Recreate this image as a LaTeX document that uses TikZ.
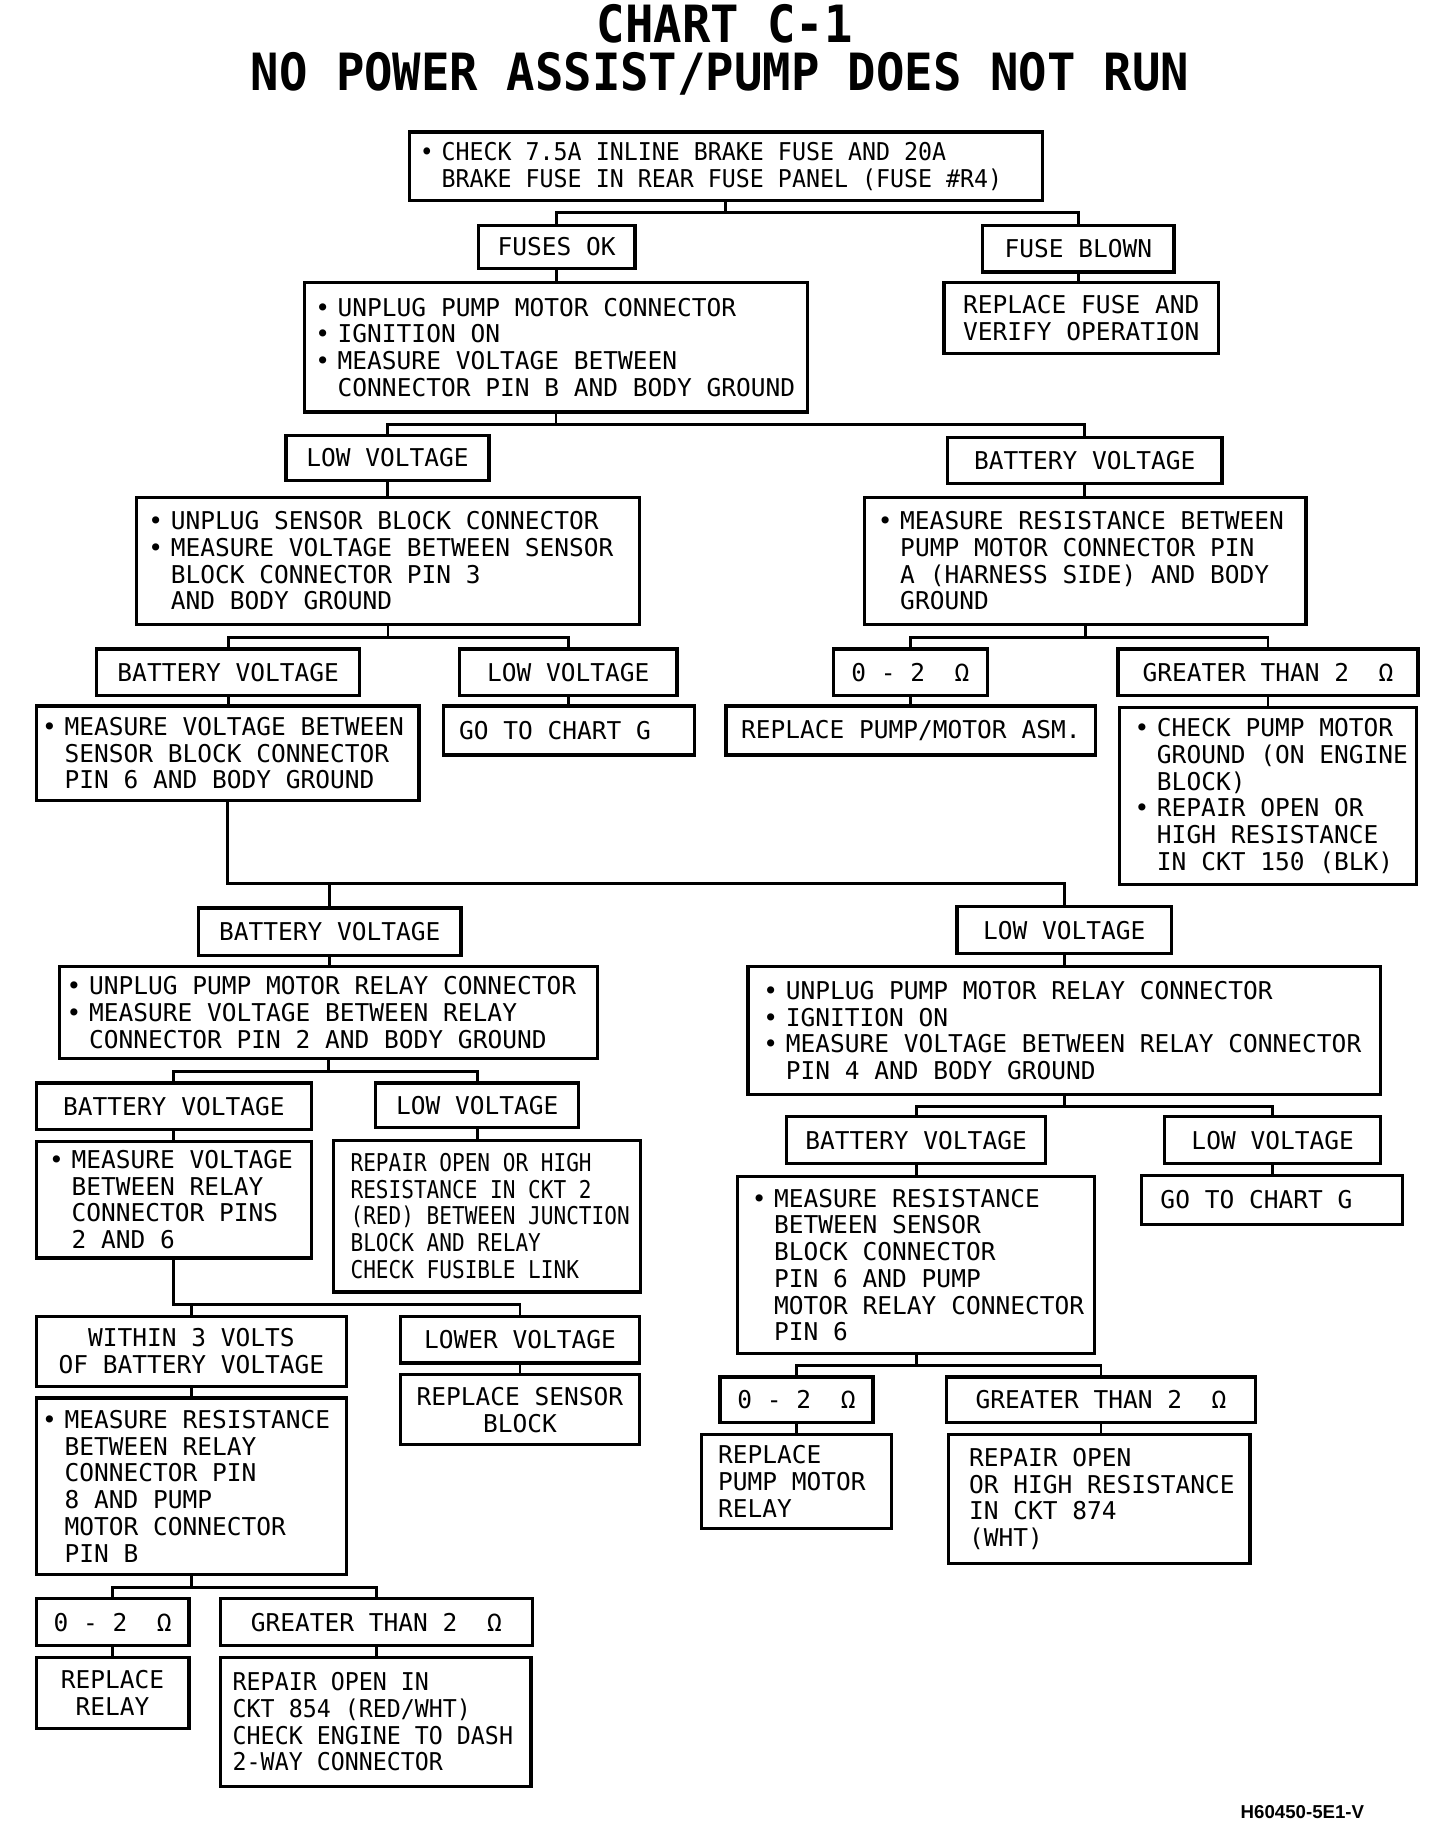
\documentclass[tikz,border=0pt]{standalone}
\usepackage{fontspec}
\newfontfamily\monof{DejaVu Sans Mono}
\newfontfamily\monosemi[FakeStretch=0.95]{DejaVu Sans Mono}
\newfontfamily\mononar[FakeStretch=0.86]{DejaVu Sans Mono}
\newfontfamily\titlef[FakeStretch=0.92]{DejaVu Sans Mono}
\newfontfamily\footf{Liberation Sans}
\newcommand\bodyfont{\monof\fontsize{10.5}{11.45}\selectfont}
\newcommand\bodysemi{\monosemi\fontsize{10.5}{11.45}\selectfont}
\newcommand\bodynar{\mononar\fontsize{10.5}{11.45}\selectfont}
\newcommand\bu{\llap{•\hspace{3.3pt}}}
\newcommand\bx[7][]{\node[box,minimum width={(#5-#3)*0.5pt},minimum height={(#6-#4)*0.5pt},#1] (#2) at ({(#3+#5)/2},{(#4+#6)/2}) {#7};}
\newcommand\tree[4]{\draw[link] (#1.south) -- (#1.south |- 0,#2);
  \draw[link] (#3.north) -- (#3.north |- 0,#2) -- (#4.north |- 0,#2) -- (#4.north);}
\newcommand\vp[2]{\draw[link] (#1.south) -- (#1.south |- #2.north);}
\begin{document}
\begin{tikzpicture}[x=0.5pt,y=-0.5pt,
  box/.style={draw,line width=1.4pt,inner sep=0pt,align=center,font=\bodyfont},
  txt/.style={inner sep=0pt,align=left,anchor=west,font=\bodyfont},
  link/.style={line width=1.2pt}]
\useasboundingbox (0,0) rectangle (1247.6,1568.1);

% title
\node[font={\titlef\bfseries\fontsize{22}{24}\selectfont},inner sep=0pt] (title1) at (621,20) {CHART C-1};
\node[font={\titlef\bfseries\fontsize{22}{24}\selectfont},inner sep=0pt] (title2) at (617,63) {NO POWER ASSIST/PUMP DOES NOT RUN};

% boxes
\bx{n1}{351}{113}{893}{172}{}
\node[txt,font=\bodysemi] (n1t) at (378,142.5) {\bu CHECK 7.5A INLINE BRAKE FUSE AND 20A\\BRAKE FUSE IN REAR FUSE PANEL (FUSE \#R4)};
\bx{n2}{410}{193}{544}{230}{FUSES OK}
\bx{n3}{842}{193}{1006}{233}{FUSE BLOWN}
\bx{n4}{261}{242}{692}{353}{}
\node[txt] (n4t) at (289,297.5) {\bu UNPLUG PUMP MOTOR CONNECTOR\\\bu IGNITION ON\\\bu MEASURE VOLTAGE BETWEEN\\CONNECTOR PIN B AND BODY GROUND};
\bx{n5}{809}{242}{1044}{303}{REPLACE FUSE AND\\VERIFY OPERATION}
\bx{n6}{245}{373}{419}{412}{LOW VOLTAGE}
\bx{n7}{812}{375}{1047}{414}{BATTERY VOLTAGE}
\bx{n8}{117}{426}{548}{535}{}
\node[txt] (n8t) at (146,480.5) {\bu UNPLUG SENSOR BLOCK CONNECTOR\\\bu MEASURE VOLTAGE BETWEEN SENSOR\\BLOCK CONNECTOR PIN 3\\AND BODY GROUND};
\bx{n9}{741}{426}{1119}{535}{}
\node[txt] (n9t) at (771,480.5) {\bu MEASURE RESISTANCE BETWEEN\\PUMP MOTOR CONNECTOR PIN\\A (HARNESS SIDE) AND BODY\\GROUND};
\bx{n10}{83}{556}{308}{596}{BATTERY VOLTAGE}
\bx{n11}{394}{556}{580}{596}{LOW VOLTAGE}
\bx{n12}{714}{556}{846}{596}{0 - 2~~Ω}
\bx{n13}{958}{556}{1215}{596}{GREATER THAN 2~~Ω}
\bx{n14}{31}{605}{359}{686}{}
\node[txt] (n14t) at (55,645.5) {\bu MEASURE VOLTAGE BETWEEN\\SENSOR BLOCK CONNECTOR\\PIN 6 AND BODY GROUND};
\bx{n15}{380}{605}{595}{647}{}
\node[txt] (n15t) at (393,626) {GO TO CHART G};
\bx{n16}{622}{605}{939}{647}{REPLACE PUMP/MOTOR ASM.}
\bx{n17}{959}{606}{1214}{758}{}
\node[txt] (n17t) at (991,682) {\bu CHECK PUMP MOTOR\\GROUND (ON ENGINE\\BLOCK)\\\bu REPAIR OPEN OR\\HIGH RESISTANCE\\IN CKT 150 (BLK)};
\bx{n18}{170}{778}{395}{819}{BATTERY VOLTAGE}
\bx{n19}{820}{777}{1004}{817}{LOW VOLTAGE}
\bx{n20}{51}{828}{512}{907}{}
\node[txt] (n20t) at (76,867.5) {\bu UNPLUG PUMP MOTOR RELAY CONNECTOR\\\bu MEASURE VOLTAGE BETWEEN RELAY\\CONNECTOR PIN 2 AND BODY GROUND};
\bx{n21}{641}{828}{1183}{938}{}
\node[txt] (n21t) at (673,883) {\bu UNPLUG PUMP MOTOR RELAY CONNECTOR\\\bu IGNITION ON\\\bu MEASURE VOLTAGE BETWEEN RELAY CONNECTOR\\PIN 4 AND BODY GROUND};
\bx{n22}{31}{928}{267}{968}{BATTERY VOLTAGE}
\bx{n23}{322}{928}{496}{966}{LOW VOLTAGE}
\bx{n24}{674}{957}{896}{997}{BATTERY VOLTAGE}
\bx{n25}{998}{957}{1183}{997}{LOW VOLTAGE}
\bx{n26}{31}{978}{267}{1078}{}
\node[txt] (n26t) at (61,1028) {\bu MEASURE VOLTAGE\\BETWEEN RELAY\\CONNECTOR PINS\\2 AND 6};
\bx{n27}{286}{977}{549}{1107}{}
\node[txt,font=\bodynar] (n27t) at (300,1042) {REPAIR OPEN OR HIGH\\RESISTANCE IN CKT 2\\(RED) BETWEEN JUNCTION\\BLOCK AND RELAY\\CHECK FUSIBLE LINK};
\bx{n28}{632}{1008}{938}{1160}{}
\node[txt] (n28t) at (663,1084) {\bu MEASURE RESISTANCE\\BETWEEN SENSOR\\BLOCK CONNECTOR\\PIN 6 AND PUMP\\MOTOR RELAY CONNECTOR\\PIN 6};
\bx{n29}{978}{1007}{1202}{1049}{}
\node[txt] (n29t) at (994,1028) {GO TO CHART G};
\bx{n30}{31}{1128}{297}{1188}{WITHIN 3 VOLTS\\OF BATTERY VOLTAGE}
\bx{n31}{343}{1128}{548}{1168}{LOWER VOLTAGE}
\bx{n32}{343}{1178}{548}{1238}{REPLACE SENSOR\\BLOCK}
\bx{n33}{31}{1198}{297}{1349}{}
\node[txt] (n33t) at (55,1273.5) {\bu MEASURE RESISTANCE\\BETWEEN RELAY\\CONNECTOR PIN\\8 AND PUMP\\MOTOR CONNECTOR\\PIN B};
\bx{n34}{617}{1180}{748}{1219}{0 - 2~~Ω}
\bx{n35}{811}{1180}{1076}{1219}{GREATER THAN 2~~Ω}
\bx{n36}{601}{1229}{764}{1310}{}
\node[txt] (n36t) at (615,1269.5) {REPLACE\\PUMP MOTOR\\RELAY};
\bx{n37}{813}{1229}{1071}{1340}{}
\node[txt] (n37t) at (830,1284.5) {REPAIR OPEN\\OR HIGH RESISTANCE\\IN CKT 874\\(WHT)};
\bx{n38}{31}{1370}{162}{1410}{0 - 2~~Ω}
\bx{n39}{189}{1370}{456}{1410}{GREATER THAN 2~~Ω}
\bx{n40}{31}{1420}{162}{1481}{REPLACE\\RELAY}
\bx{n41}{189}{1420}{455}{1531}{}
\node[txt,font=\bodysemi] (n41t) at (199,1475.5) {REPAIR OPEN IN\\CKT 854 (RED/WHT)\\CHECK ENGINE TO DASH\\2-WAY CONNECTOR};

% footer
\node[font={\footf\bfseries\fontsize{8}{9}\selectfont},inner sep=0pt] (foot) at (1116,1553) {H60450-5E1-V};

% connectors
\tree{n1}{182}{n2}{n3}
\vp{n2}{n4}
\vp{n3}{n5}
\tree{n4}{364}{n6}{n7}
\vp{n6}{n8}
\vp{n7}{n9}
\tree{n8}{546}{n10}{n11}
\tree{n9}{546}{n12}{n13}
\vp{n10}{n14}
\vp{n11}{n15}
\vp{n12}{n16}
\vp{n13}{n17}
\draw[link] (n14.south) -- (n14.south |- 0,757) -- (n19.north |- 0,757) -- (n19.north);
\draw[link] (n18.north) -- (n18.north |- 0,757);
\vp{n18}{n20}
\vp{n19}{n21}
\tree{n20}{918}{n22}{n23}
\tree{n21}{948}{n24}{n25}
\vp{n22}{n26}
\vp{n23}{n27}
\vp{n24}{n28}
\vp{n25}{n29}
\draw[link] (n26.south) -- (n26.south |- 0,1118) -- (n31.north |- 0,1118) -- (n31.north);
\draw[link] (n30.north) -- (n30.north |- 0,1118);
\vp{n31}{n32}
\vp{n30}{n33}
\tree{n28}{1170}{n34}{n35}
\vp{n34}{n36}
\vp{n35}{n37}
\tree{n33}{1360}{n38}{n39}
\vp{n38}{n40}
\vp{n39}{n41}
\end{tikzpicture}
\end{document}
